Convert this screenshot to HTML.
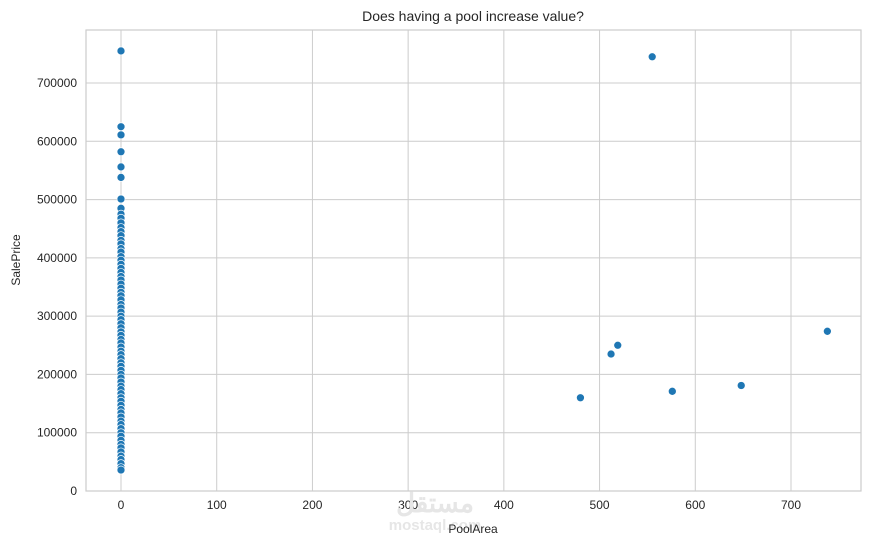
<!DOCTYPE html>
<html><head><meta charset="utf-8"><style>
body{margin:0;background:#fff;font-family:"Liberation Sans",sans-serif}
svg text{font-family:"Liberation Sans",sans-serif;fill:#262626}
</style></head><body>
<svg id="chart" width="870" height="545"></svg>
<script>
const poolArea=[0,0,0,0,0,0,0,480,512,519,555,576,648,738];
const salePrice=[755000,625000,611000,582000,556000,538000,501000,160000,235000,250000,745000,171000,181000,274000];
const denseCol=[485000,475000,468000,460000,452000,445000,438000,430000,424000,416000,410000,402000,396000,389000,382000,375000,368000,362000,355000,348000,341000,335000,328000,320000,314000,307000,300000,294000,287000,280000,273000,267000,260000,254000,247000,240000,234000,227000,220000,214000,207000,200000,194000,187000,180000,174000,167000,160000,154000,147000,140000,134000,127000,120000,114000,107000,100000,94000,87000,80000,74000,67000,60000,54000,47000,40000,36000];
const xTicks=[0,100,200,300,400,500,600,700];
const yTicks=[0,100000,200000,300000,400000,500000,600000,700000];
const NS="http://www.w3.org/2000/svg";
const svg=document.getElementById('chart');
const L=86,R=861,T=30,B=491;
const xs=v=>121+v*(791-121)/700;
const ys=v=>491-v*(491-83)/700000;
function mk(t,a,p){const e=document.createElementNS(NS,t);for(const k in a)e.setAttribute(k,a[k]);(p||svg).appendChild(e);return e;}
const frame=mk('rect',{x:L,y:T,width:R-L,height:B-T,fill:'#fff',stroke:'#cccccc','stroke-width':1.2});


xTicks.forEach(t=>{
 const g=mk('line',{x1:xs(t),x2:xs(t),y1:T,y2:B,stroke:'#cccccc','stroke-width':1});
 
 
 const l=mk('text',{x:xs(t),y:B+18,'text-anchor':'middle','font-size':12});l.textContent=t;
 
 
});
yTicks.forEach(t=>{
 const g=mk('line',{x1:L,x2:R,y1:ys(t),y2:ys(t),stroke:'#cccccc','stroke-width':1});
 
 
 const l=mk('text',{x:L-9,y:ys(t)+4,'text-anchor':'end','font-size':12});l.textContent=t;
 
 
});
const wm=mk('text',{x:435,y:512,'text-anchor':'middle','font-size':26,'font-weight':'bold',style:'fill:#e6e6e6'});wm.textContent='مستقل';


const wm2=mk('text',{x:435,y:530,'text-anchor':'middle','font-size':15,'font-weight':'bold',style:'fill:#e6e6e6'});wm2.textContent='mostaql.com';


function dot(x,y){const c=mk('circle',{cx:xs(x),cy:ys(y),r:4,fill:'#1f77b4',stroke:'#fff','stroke-width':0.7});
 
 }
denseCol.forEach(v=>dot(0,v));
poolArea.forEach((x,i)=>dot(x,salePrice[i]));
const tt=mk('text',{x:473,y:21,'text-anchor':'middle','font-size':14});tt.textContent='Does having a pool increase value?';


const xt=mk('text',{x:473,y:533,'text-anchor':'middle','font-size':12});xt.textContent='PoolArea';


const yt=mk('text',{x:20,y:260,'text-anchor':'middle','font-size':12,transform:'rotate(-90 20 260)'});yt.textContent='SalePrice';


</script>
</body></html>
